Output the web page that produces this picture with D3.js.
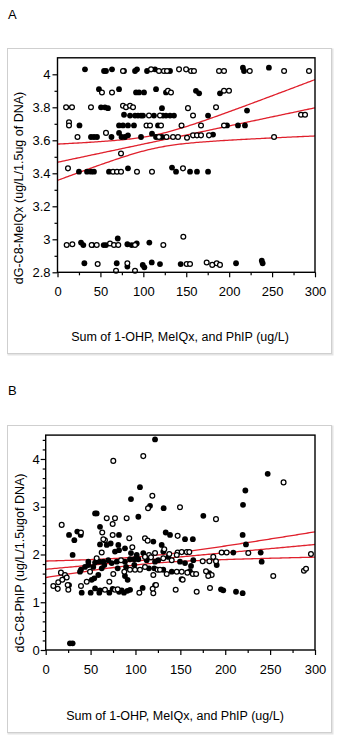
<!DOCTYPE html>
<html>
<head>
<meta charset="utf-8">
<script src="https://cdn.jsdelivr.net/npm/d3@7/dist/d3.min.js"></script>
<style>
  body { margin: 0; background: #fff; }
  svg { display: block; font-family: "Liberation Sans", Arial, sans-serif; }
</style>
</head>
<body>
<div id="chart"></div>
<script>
// Scatter of adduct levels vs. summed exposure, two panels with fit + 95% band
const xTicks = [0, 50, 100, 150, 200, 250, 300];
const xMinor = [25, 75, 125, 175, 225, 275];
const aYTicks = [2.8, 3, 3.2, 3.4, 3.6, 3.8, 4];
const aYMinor = [2.9, 3.1, 3.3, 3.5, 3.7, 3.9];
const bYTicks = [0, 1, 2, 3, 4];
const bYMinor = [0.2, 0.4, 0.6, 0.8, 1.2, 1.4, 1.6, 1.8, 2.2, 2.4, 2.6, 2.8, 3.2, 3.4, 3.6, 3.8, 4.2, 4.4];

// fit: [intercept, slope]; band: [min half-width, spread, x mean]
const aFit = [3.467, 0.0011];
const aBand = [0.04, 0.000895, 114.5];
const bFit = [1.69, 0.00173];
const bBand = [0.08, 0.00135, 113];

const aFilled = [
  [32,4.03],[54.2,4.02],[56.5,4.02],[63.5,4.03],[77.5,4.02],[90.3,4.02],[92.6,4.03],[104.3,4.02],[113.6,4.03],[131.1,4.02],[216,4.04],[217.3,4.02],[246.3,4.04],
  [48.3,3.91],[71.7,3.91],[91.5,3.89],[95,3.89],[100.8,3.89],[114.8,3.91],[126.4,3.89],[161.3,3.9],[165,3.885],[189.3,3.885],
  [50.7,3.8],[55.3,3.8],[58.8,3.795],[121.7,3.795],[220.8,3.78],
  [77.5,3.755],[84.5,3.75],[90.3,3.75],[93.8,3.75],[97.3,3.75],[99.6,3.75],[112.4,3.75],[122.9,3.75],[126.4,3.75],[131.1,3.75],[135.7,3.75],[175.4,3.75],
  [25.6,3.69],[71.7,3.69],[76.3,3.69],[82.1,3.69],[89.1,3.69],[117.1,3.69],[197.5,3.69],[210.3,3.69],[218.4,3.69],
  [39,3.62],[42.5,3.62],[46,3.62],[62.9,3.62],[71.7,3.645],[74.6,3.62],[78.6,3.62],[82.1,3.63],[97.3,3.62],[110.1,3.64],[114.8,3.62],[121.7,3.62],[181.2,3.635],
  [25,3.41],[34.4,3.41],[39,3.41],[42.5,3.41],[60,3.41],[82.1,3.43],[133.4,3.435],[138.1,3.41],[154.4,3.41],[162.5,3.41],[175.4,3.41],
  [27.4,2.98],[30.1,2.965],[40.6,2.965],[53.8,2.965],[56.5,2.965],[70.2,3.005],[81.4,2.97],[86.4,2.965],[92.3,2.975],[107,2.98],
  [31.3,2.855],[69,2.855],[81.4,2.835],[99.3,2.845],[101.2,2.83],[109.8,2.86],[119.4,2.85],[143.5,2.85],[208,2.855],[238,2.87],[239,2.855]
];
const aOpen = [
  [76.3,4.02],[109,4.03],[118.2,4.02],[124,4.02],[127.6,4.02],[141.6,4.03],[149.8,4.03],[155.6,4.02],[159,4.02],[188.2,4.02],[194,4.02],[224,4.02],[264,4.02],[293,4.02],
  [51.8,3.89],[63.5,3.89],[128.7,3.9],[132.2,3.89],[194,3.9],[199.8,3.9],
  [10,3.8],[16.9,3.8],[39,3.8],[76.3,3.81],[79.8,3.8],[84.5,3.81],[88,3.8],[152,3.795],[184.7,3.8],
  [106.6,3.75],[119.4,3.75],[157.9,3.75],[283.7,3.755],[288.4,3.755],
  [13.4,3.71],[13.4,3.69],[103.7,3.69],[107.8,3.69],[120.6,3.69],[144.5,3.69],[167.2,3.69],[194,3.69],
  [23.3,3.62],[56.5,3.645],[118.2,3.62],[127,3.62],[134.6,3.62],[140.4,3.62],[150.9,3.615],[157.9,3.63],[162.5,3.63],[167.2,3.63],[176.5,3.63],[252.3,3.62],
  [74,3.52],
  [12.2,3.43],[64.7,3.41],[69.3,3.41],[74,3.41],[92.6,3.41],[110.1,3.41],[146.2,3.43],
  [10.7,2.965],[17.3,2.97],[39.8,2.965],[45.7,2.965],[61.2,2.975],[65.8,2.965],[70.8,2.965],[90.3,2.965],[123.3,2.965],[146.6,3.015],
  [46.8,2.85],[81.4,2.855],[150.5,2.85],[154.4,2.85],[173.8,2.86],[180.3,2.845],[185.5,2.855],[189.3,2.845],[68.2,2.81],[90.3,2.81]
];

const bFilled = [
  [121.8,4.41],[247.3,3.69],[105,3.41],[222.4,3.34],[95,3.16],[116.2,3.02],[131.4,2.97],[219.8,3.04],
  [55,2.86],[56.8,2.86],[103.2,2.79],[175.6,2.81],[60.5,2.58],
  [26,2.41],[35.2,2.48],[39,2.41],[31.9,2.3],[68,2.2],[81.6,2.41],[80.9,2.2],[119.9,2.27],[133.7,2.46],[138.5,2.41],[129.2,2.2],[60.5,2.21],[72.4,2.23],[155.2,2.32],[163.9,2.32],[219.4,2.41],[223.1,2.21],
  [30,1.99],[77.2,2.06],[81.7,2.09],[88.3,2.13],[95,2.03],[108.7,2.03],[131,2.06],[209,2.04],[239.5,2.04],[240.6,1.85],
  [47.5,1.85],[55,1.83],[59.7,1.85],[64.2,1.85],[69.7,1.88],[73.5,1.82],[79.1,1.85],[88.3,1.85],[93.9,1.9],[98.7,1.9],[103.2,1.9],[101.4,1.99],[112.5,1.88],[121.8,1.85],[125.4,1.88],[136.6,1.95],[149.6,1.85],[155.2,1.82],[164.4,1.88],[161.9,1.76],[190.5,1.78],
  [43.8,1.74],[39.3,1.68],[47.5,1.78],[53,1.74],[62.4,1.71],[65.3,1.78],[58.6,1.57],[80.2,1.71],[89.5,1.74],[98.7,1.78],[91.3,1.47],[88.3,1.55],[115,1.71],[121,1.71],[131,1.68],[140.4,1.64],[160.7,1.65],[182.3,1.61],[38.2,1.64],
  [26,1.36],[40.1,1.2],[51.2,1.47],[54.1,1.5],[50.1,1.2],[55,1.29],[59.7,1.2],[60.5,1.25],[70.9,1.2],[74.6,1.28],[81.7,1.22],[84.7,1.25],[87.2,1.2],[91,1.24],[94,1.26],[108,1.3],[121.8,1.36],[195.3,1.27],[197.8,1.25],[212,1.22],[219.4,1.19],
  [27,0.14],[30,0.14]
];
const bOpen = [
  [75.3,3.96],[108.7,4.06],[265,3.51],[118.8,3.23],[114,2.97],[149.6,2.99],
  [68,2.76],[77.2,2.76],[90.2,2.76],[189.7,2.74],[17.8,2.62],[74.6,2.64],
  [39.3,2.46],[63,2.46],[66,2.3],[74.6,2.41],[64.2,2.32],[93.1,2.34],[110.6,2.34],[113.6,2.29],[147,2.39],[132.1,2.11],
  [62.4,2.04],[96.5,2.15],[115.1,1.99],[121.8,2.03],[137.7,2.01],[147,2.04],[151.5,2.05],[157.1,2.05],[160,2.05],[196,2.04],[201.6,2.04],[225.7,2.03],[295.5,2.01],[186.7,1.95],
  [56.8,1.92],[83.9,1.88],[110.6,1.95],[117.3,1.94],[131,1.92],[140.4,1.88],[146,1.99],[174.9,1.86],[182.3,1.86],[189.7,1.86],
  [49.4,1.64],[17,1.62],[21.5,1.57],[23.4,1.52],[75.3,1.59],[87.6,1.64],[93.9,1.68],[99.5,1.68],[105,1.68],[110.6,1.74],[124.7,1.68],[127.3,1.68],[119.9,1.57],[134.8,1.59],[146,1.64],[151.5,1.48],
  [151.5,1.64],[157.8,1.62],[163.9,1.59],[167.6,1.59],[152.6,1.47],[178.6,1.65],[184.9,1.57],[181.1,1.55],
  [253.5,1.55],[287.7,1.66],[290,1.7],
  [8.5,1.34],[13.4,1.28],[14,1.42],[18.5,1.47],[25.2,1.26],[24.5,1.36],[39.3,1.34],[45.7,1.43],[66,1.26],[70.9,1.43],[77.2,1.26],[80.2,1.27],[104.3,1.2],[119.2,1.28],[119.9,1.19],[122.9,1.36],[144.8,1.26],[168.2,1.22],[183,1.3]
];

const W = 341, H = 739;
const svg = d3.select('#chart').append('svg').attr('width', W).attr('height', H);

function panel(o) {
  // outer frame with faint shadow
  svg.append('rect').attr('x', o.box[0] + 1.5).attr('y', o.box[1] + 1.5)
    .attr('width', o.box[2]).attr('height', o.box[3])
    .attr('fill', 'none').attr('stroke', '#e4e4e4').attr('stroke-width', 2);
  svg.append('rect').attr('x', o.box[0] + 0.5).attr('y', o.box[1] + 0.5)
    .attr('width', o.box[2]).attr('height', o.box[3])
    .attr('fill', '#fff').attr('stroke', '#cfcfcf');

  svg.append('text').attr('x', 8).attr('y', o.labelY)
    .style('font-size', '13px').text(o.label);

  const x = d3.scaleLinear().domain([0, 300]).range(o.xr);
  const y = d3.scaleLinear().domain(o.yd).range(o.yr);
  const g = svg.append('g');

  // fit and confidence band
  const xs = d3.range(0, 301, 2);
  const hw = v => Math.sqrt(o.band[0] ** 2 + (o.band[1] * (v - o.band[2])) ** 2);
  const fit = v => o.fit[0] + o.fit[1] * v;
  const line = d3.line().x(d => x(d[0])).y(d => y(d[1]));
  [-1, 0, 1].forEach(s => {
    g.append('path')
      .datum(xs.map(v => [v, fit(v) + s * hw(v)]))
      .attr('d', line)
      .attr('fill', 'none').attr('stroke', '#e0202c').attr('stroke-width', 1.3);
  });

  g.selectAll('.f').data(o.filled).enter().append('circle')
    .attr('cx', d => x(d[0])).attr('cy', d => y(d[1])).attr('r', 2.9)
    .attr('fill', '#000');
  g.selectAll('.o').data(o.open).enter().append('circle')
    .attr('cx', d => x(d[0])).attr('cy', d => y(d[1])).attr('r', 2.4)
    .attr('fill', '#fff').attr('stroke', '#000').attr('stroke-width', 1.25);

  // plot frame
  svg.append('rect').attr('x', o.xr[0]).attr('y', o.yr[1])
    .attr('width', o.xr[1] - o.xr[0]).attr('height', o.yr[0] - o.yr[1])
    .attr('fill', 'none').attr('stroke', '#000').attr('stroke-width', 1.4);

  const fmt = d3.format('~g');
  const xa = svg.append('g').attr('transform', `translate(0,${o.yr[0]})`)
    .call(d3.axisBottom(x).tickValues(xTicks).tickSize(5).tickSizeOuter(0).tickPadding(o.xPad).tickFormat(fmt));
  svg.append('g').attr('transform', `translate(0,${o.yr[0]})`)
    .call(d3.axisBottom(x).tickValues(xMinor).tickSize(3).tickSizeOuter(0).tickFormat(''));
  const ya = svg.append('g').attr('transform', `translate(${o.xr[0]},0)`)
    .call(d3.axisLeft(y).tickValues(o.yTicks).tickSize(5).tickSizeOuter(0).tickPadding(o.yPad).tickFormat(fmt));
  svg.append('g').attr('transform', `translate(${o.xr[0]},0)`)
    .call(d3.axisLeft(y).tickValues(o.yMinor).tickSize(3).tickSizeOuter(0).tickFormat(''));
  svg.selectAll('.domain').remove();
  svg.selectAll('.tick line').attr('stroke', '#000').attr('stroke-width', 1.2);
  [xa, ya].forEach(a => a.selectAll('text')
    .style('font-size', '13px').style('font-family', '"Liberation Sans", Arial, sans-serif').attr('fill', '#000'));

  svg.append('text').attr('x', o.xTitle[0]).attr('y', o.xTitle[1])
    .attr('text-anchor', 'middle').style('font-size', '12.5px').text(o.xLabel);
  svg.append('text')
    .attr('transform', `translate(${o.yTitle[0]},${o.yTitle[1]}) rotate(-90)`)
    .attr('text-anchor', 'middle').style('font-size', '12.5px').text(o.yLabel);
}

panel({
  label: 'A', labelY: 19, box: [7, 48, 324, 305],
  xr: [57.5, 315], yd: [2.8, 4.1], yr: [272.3, 57.8],
  yTicks: aYTicks, yMinor: aYMinor, fit: aFit, band: aBand,
  filled: aFilled, open: aOpen, xPad: 9, yPad: 2,
  xTitle: [180, 341], xLabel: 'Sum of 1-OHP, MeIQx, and PhIP (ug/L)',
  yTitle: [23, 188], yLabel: 'dG-C8-MeIQx (ug/L/1.5ug of DNA)'
});

panel({
  label: 'B', labelY: 395, box: [7, 425, 324, 307],
  xr: [45.7, 315], yd: [0, 4.5], yr: [650, 435.1],
  yTicks: bYTicks, yMinor: bYMinor, fit: bFit, band: bBand,
  filled: bFilled, open: bOpen, xPad: 10, yPad: 1,
  xTitle: [175, 720], xLabel: 'Sum of 1-OHP, MeIQx, and PhIP (ug/L)',
  yTitle: [24, 563], yLabel: 'dG-C8-PhIP (ug/L/1.5ugof DNA)'
});
</script>
</body>
</html>
